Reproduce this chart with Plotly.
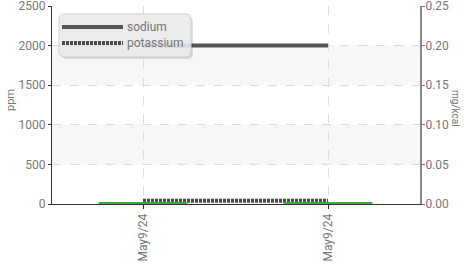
import plotly.graph_objects as go

# ---- data ----
dates = ["May9/24", "May9/24"]
x_pos = [0, 1]
sodium = [2000, 2000]
potassium = [40, 40]
ratio = [0.0018, 0.0018]

W, H = 464, 265
L, R, T, B = 52, 44, 6, 61
PW, PH = W - L - R, H - T - B

def px(x):
    return (x - L) / PW

def py(y):
    return (H - B - y) / PH

FONT = "Roboto"
GREY = "#777"
K_DASH = "3px,1px"

fig = go.Figure()

fig.add_trace(go.Scatter(x=x_pos, y=sodium, mode="lines", name="sodium",
                         line=dict(color="#555", width=4), showlegend=False))
fig.add_trace(go.Scatter(x=x_pos, y=potassium, mode="lines", name="potassium",
                         line=dict(color="#4a4a4a", width=4, dash=K_DASH), showlegend=False))
fig.add_trace(go.Bar(x=x_pos, y=ratio, yaxis="y2", width=0.48, name="ratio",
                     marker=dict(color="#3daa3d", line=dict(width=0)), showlegend=False))

shapes = []
# alternating grid bands
for lo, hi in [(500, 1000), (1500, 2000)]:
    shapes.append(dict(type="rect", xref="paper", yref="y", x0=0, x1=1, y0=lo, y1=hi,
                       fillcolor="#f7f7f7", line=dict(width=0), layer="below"))

# custom legend
def rounded(x0, y0, x1, y1, r):
    def P(x, y):
        return f"{px(x):.5f},{py(y):.5f}"
    return (f"M {P(x0 + r, y0)} L {P(x1 - r, y0)} Q {P(x1, y0)} {P(x1, y0 + r)} "
            f"L {P(x1, y1 - r)} Q {P(x1, y1)} {P(x1 - r, y1)} "
            f"L {P(x0 + r, y1)} Q {P(x0, y1)} {P(x0, y1 - r)} "
            f"L {P(x0, y0 + r)} Q {P(x0, y0)} {P(x0 + r, y0)} Z")

shapes.append(dict(type="path", xref="paper", yref="paper", path=rounded(61, 16, 193, 59, 6),
                   fillcolor="rgba(0,0,0,0.12)", line=dict(width=0)))
shapes.append(dict(type="path", xref="paper", yref="paper", path=rounded(59, 14, 191, 57, 6),
                   fillcolor="rgba(236,236,236,0.88)", line=dict(color="#d0d0d0", width=1)))
shapes.append(dict(type="line", xref="paper", yref="paper", x0=px(62), x1=px(123), y0=py(27), y1=py(27),
                   line=dict(color="#555", width=4)))
shapes.append(dict(type="line", xref="paper", yref="paper", x0=px(62), x1=px(123), y0=py(43), y1=py(43),
                   line=dict(color="#4a4a4a", width=4, dash=K_DASH)))

annotations = [
    dict(text="sodium", xref="paper", yref="paper", x=px(125), y=py(27), xanchor="left", yanchor="middle",
         showarrow=False, font=dict(family=FONT, size=12, color=GREY)),
    dict(text="potassium", xref="paper", yref="paper", x=px(125), y=py(43), xanchor="left", yanchor="middle",
         showarrow=False, font=dict(family=FONT, size=12, color=GREY)),
    dict(text="ppm", xref="paper", yref="paper", x=px(11), y=py(100), xanchor="center", yanchor="middle",
         textangle=-90, showarrow=False, font=dict(family=FONT, size=11, color=GREY)),
    dict(text="mg/kcal", xref="paper", yref="paper", x=px(456), y=py(108), xanchor="center", yanchor="middle",
         textangle=90, showarrow=False, font=dict(family=FONT, size=10, color=GREY)),
]

tickfont = dict(family=FONT, size=12, color=GREY)

fig.update_layout(
    width=W, height=H,
    margin=dict(l=L, r=R, t=T, b=B, pad=0),
    paper_bgcolor="white", plot_bgcolor="white",
    showlegend=False,
    shapes=shapes, annotations=annotations,
    xaxis=dict(range=[-0.492, 1.497], tickvals=x_pos, ticktext=dates, tickangle=-90,
               tickfont=tickfont, ticks="outside", ticklen=4, tickcolor="#333",
               showgrid=True, gridcolor="#ddd", griddash="dash", zeroline=False,
               showline=True, linecolor="#333", linewidth=1, fixedrange=True,
               automargin=False, ticklabeloverflow="allow"),
    yaxis=dict(range=[0, 2500], tickvals=[0, 500, 1000, 1500, 2000, 2500],
               tickfont=tickfont, ticks="outside", ticklen=3, tickcolor="#333",
               showgrid=True, gridcolor="#ddd", griddash="dash", zeroline=False,
               showline=True, linecolor="#333", linewidth=1, ticklabelstandoff=0,
               automargin=False, ticklabeloverflow="allow"),
    yaxis2=dict(range=[0, 0.25], tickvals=[0, 0.05, 0.10, 0.15, 0.20, 0.25],
                tickformat=".2f", overlaying="y", side="right",
                tickfont=tickfont, ticks="outside", ticklen=3, tickcolor="#777",
                showgrid=False, zeroline=False, ticklabelstandoff=-2,
                showline=True, linecolor="#888", linewidth=2,
                automargin=False, ticklabeloverflow="allow"),
)

fig.write_html("out.html", config={"displayModeBar": False},
               post_script="document.body.style.margin='0';")
